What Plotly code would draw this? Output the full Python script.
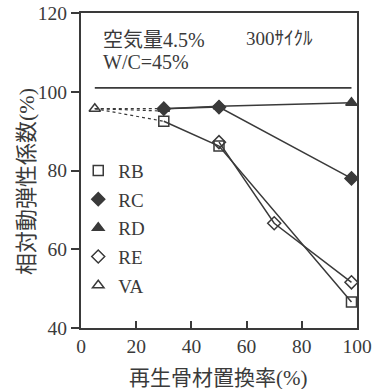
import plotly.graph_objects as go

# data
rb_x = [30, 50, 98]
rb_y = [92.5, 86.2, 46.6]
rc_x = [30, 50, 98]
rc_y = [95.7, 96.1, 78.0]
rd_x = [30, 50, 98]
rd_y = [95.7, 96.3, 97.2]
re_x = [50, 70, 98]
re_y = [87.2, 66.6, 51.6]
va_x = [5]
va_y = [95.7]
ref_x = [5, 98]
ref_y = [101, 101]
x_ticks = [0, 20, 40, 60, 80, 100]
y_ticks = [40, 60, 80, 100, 120]

C = "#3a3a3a"
FONT = "Liberation Serif, Noto Sans CJK JP, serif"

fig = go.Figure()

# reference line
fig.add_trace(go.Scatter(x=ref_x, y=ref_y, mode="lines", line=dict(color=C, width=1.8), showlegend=False, hoverinfo="skip"))
# dotted links from VA
for tx, ty in [(rc_x[0], rc_y[0]), (rb_x[0], rb_y[0]), (rd_x[0], rd_y[0] - 0.6)]:
    fig.add_trace(go.Scatter(x=[va_x[0], tx], y=[va_y[0], ty], mode="lines",
                             line=dict(color=C, width=1.2, dash="dot"), showlegend=False, hoverinfo="skip"))

series = [
    ("RB", rb_x, rb_y, "square-open"),
    ("RC", rc_x, rc_y, "diamond"),
    ("RD", rd_x, rd_y, "triangle-up"),
    ("RE", re_x, re_y, "diamond-open"),
    ("VA", va_x, va_y, "triangle-up-open"),
]
for name, xs, ys, sym in series:
    fig.add_trace(go.Scatter(x=xs, y=ys, mode="lines+markers", name=name,
                             line=dict(color=C, width=1.5),
                             marker=dict(symbol=sym, size=10, color=C, line=dict(color=C, width=1.5)),
                             showlegend=False))
for i, (name, xs, ys, sym) in enumerate(series):
    fig.add_trace(go.Scatter(x=[None], y=[None], mode="markers", name=name,
                             legendgroup=name,
                             marker=dict(symbol=sym, size=10, color=C, line=dict(color=C, width=1.5))))

# plot area in window pixels
PL, PR, PT, PB = 81, 357, 13, 328
def px(x):
    return (x - PL) / (PR - PL)
def py(y):
    return (PB - y) / (PB - PT)

fig.add_annotation(x=px(101), y=py(40), xref="paper", yref="paper", text="空気量4.5%", showarrow=False,
                   xanchor="left", yanchor="middle", font=dict(family=FONT, size=20, color=C))
fig.add_annotation(x=px(101), y=py(62), xref="paper", yref="paper", text="W/C=45%", showarrow=False,
                   xanchor="left", yanchor="middle", font=dict(family=FONT, size=20, color=C))
fig.add_annotation(x=px(244), y=py(38), xref="paper", yref="paper", text="300ｻｲｸﾙ", showarrow=False,
                   xanchor="left", yanchor="middle", font=dict(family=FONT, size=19, color=C))
fig.add_annotation(x=px(218), y=py(378), xref="paper", yref="paper",
                   text="再生骨材置換率(%)", showarrow=False, xanchor="center", yanchor="middle",
                   font=dict(family=FONT, size=21, color=C))
fig.add_annotation(x=px(26), y=py(182), xref="paper", yref="paper",
                   text="相対動弾性係数(%)", showarrow=False, xanchor="center", yanchor="middle",
                   textangle=-90, font=dict(family=FONT, size=22, color=C))

fig.update_layout(
    width=380, height=389,
    margin=dict(l=PL, r=380 - PR, t=PT, b=389 - PB, autoexpand=False),
    paper_bgcolor="white", plot_bgcolor="white",
    font=dict(family=FONT, size=19.5, color=C),
    legend=dict(x=-0.01, y=0.56, xanchor="left", yanchor="top", bgcolor="rgba(0,0,0,0)",
                font=dict(family=FONT, size=19, color=C), tracegroupgap=1, itemwidth=30),
    xaxis=dict(range=[0, 100], tickvals=x_ticks, ticks="inside", ticklen=7, tickwidth=1.5,
               tickcolor=C, showline=True, linecolor=C, linewidth=2, mirror=True,
               showgrid=False, zeroline=False, automargin=False, ticklabeloverflow="allow"),
    yaxis=dict(range=[40, 120], tickvals=y_ticks, ticks="outside", ticklen=8, tickwidth=1.5,
               tickcolor=C, showline=True, linecolor=C, linewidth=2, mirror=True,
               showgrid=False, zeroline=False, automargin=False, ticklabeloverflow="allow"),
)

fig.write_html("out.html", config={"displayModeBar": False},
               post_script="document.body.style.margin='0';document.body.style.overflow='hidden';")
